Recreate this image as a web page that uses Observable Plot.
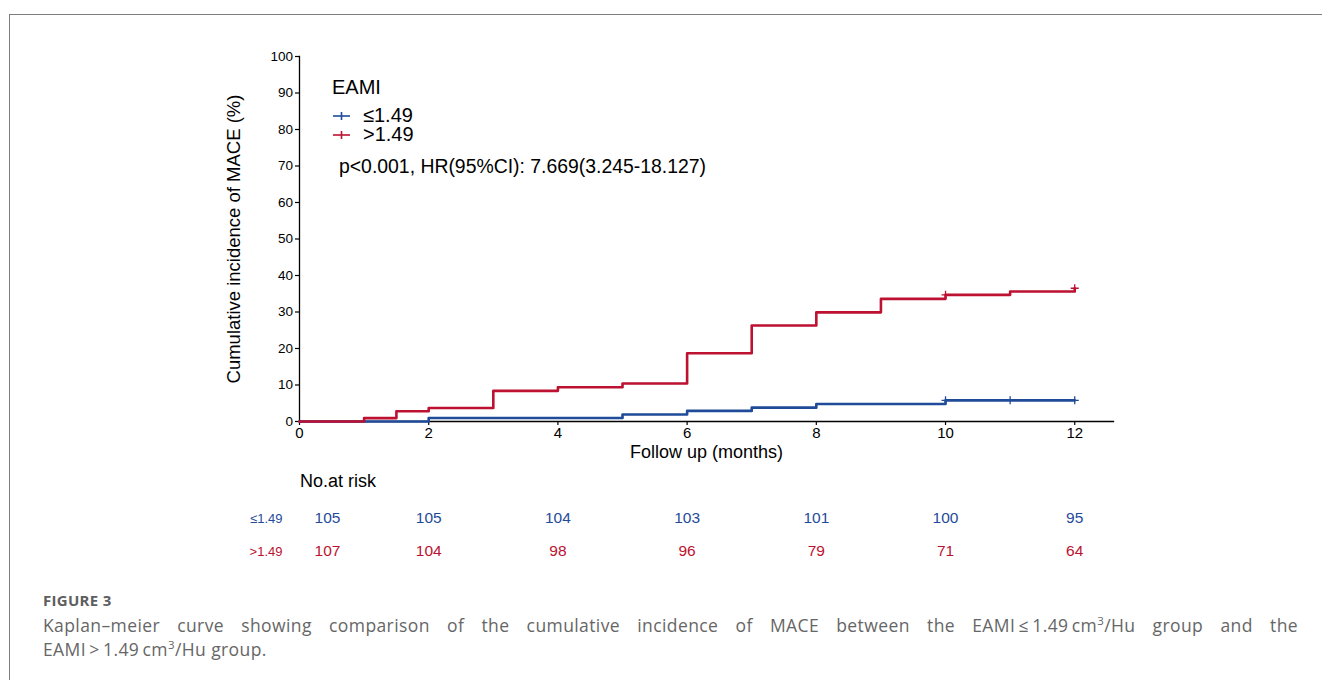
<!DOCTYPE html>
<html>
<head>
<meta charset="utf-8">
<script src="https://cdn.jsdelivr.net/npm/d3@7"></script>
<script src="https://cdn.jsdelivr.net/npm/@observablehq/plot@0.6"></script>
<style>
  html, body { margin: 0; padding: 0; background: #fff; }
  body { width: 1322px; height: 680px; overflow: hidden; position: relative;
         font-family: "Liberation Sans", Arial, sans-serif; color: #000; }
  #frame { position: absolute; left: 9px; top: 14px; width: 1400px; height: 700px;
           border-top: 1.5px solid #7d7d7d; border-left: 1.5px solid #7d7d7d; }
  #km, #risk { position: absolute; left: 0; }
  #km { top: 0; }
  #risk { top: 460px; }
  .abs { position: absolute; white-space: nowrap; }
  #legendTitle { left: 332px; top: 76px; font-size: 20px; line-height: 22px; }
  .item { left: 333px; font-size: 20px; line-height: 19px; height: 19px; display: flex; align-items: center; }
  .item svg { margin-right: 12px; }
  #pval { left: 339px; top: 155px; font-size: 19.4px; line-height: 22px; }
  #riskTitle { left: 300px; top: 470px; font-size: 18px; line-height: 22px; }
  #caption { position: absolute; left: 43px; top: 590px; width: 1255px;
             font-family: "Open Sans", Lato, sans-serif; color: #666; }
  #figno { font-size: 15px; font-weight: 700; letter-spacing: 0.3px; line-height: 20px; color: #5e5e5e; }
  .cap { font-size: 17.5px; letter-spacing: 0.4px; line-height: 24px; }
  .cap.first { margin-top: 3px; text-align: justify; text-align-last: justify; }
  .cap sup { font-size: 11.5px; line-height: 0; vertical-align: 7px; }
</style>
</head>
<body>
<div id="frame"></div>
<div id="km"></div>
<div id="risk"></div>

<div class="abs" id="legendTitle">EAMI</div>
<div class="abs item" id="item0" style="top:106px"></div>
<div class="abs item" id="item1" style="top:125px"></div>
<div class="abs" id="pval">p&lt;0.001, HR(95%CI): 7.669(3.245-18.127)</div>
<div class="abs" id="riskTitle">No.at risk</div>

<div id="caption">
  <div id="figno">FIGURE 3</div>
  <div class="cap first">Kaplan–meier curve showing comparison of the cumulative incidence of MACE between the EAMI&#8201;≤&#8201;1.49&#8201;cm<sup>3</sup>/Hu group and the</div>
  <div class="cap">EAMI&#8201;&gt;&#8201;1.49&#8201;cm<sup>3</sup>/Hu group.</div>
</div>

<script>
// Groups and colours
const groups = ["≤1.49", ">1.49"];
const groupColors = ["#1f4b99", "#bc1131"];

// Cumulative incidence (%) step points, EAMI ≤1.49
const lowTime = [0, 2, 5, 6, 7, 8, 10, 12];
const lowCum  = [0, 0.95, 1.9, 2.9, 3.8, 4.8, 5.8, 5.8];
const lowCensor = [10, 11, 12];

// Cumulative incidence (%) step points, EAMI >1.49
const highTime = [0, 1, 1.5, 2, 3, 4, 5, 6, 7, 8, 9, 10, 11, 12];
const highCum  = [0, 0.93, 2.8, 3.7, 8.4, 9.4, 10.4, 18.7, 26.3, 29.9, 33.6, 34.7, 35.6, 36.5];
const highCensor = [10, 12];

// Number at risk
const riskTime = [0, 2, 4, 6, 8, 10, 12];
const lowRisk  = [105, 105, 104, 103, 101, 100, 95];
const highRisk = [107, 104, 98, 96, 79, 71, 64];

// Axis ticks
const xTicks = [0, 2, 4, 6, 8, 10, 12];
const yTicks = [0, 10, 20, 30, 40, 50, 60, 70, 80, 90, 100];

const series = [
  {group: groups[0], color: groupColors[0], time: lowTime, cum: lowCum, censor: lowCensor, risk: lowRisk},
  {group: groups[1], color: groupColors[1], time: highTime, cum: highCum, censor: highCensor, risk: highRisk}
];

const curves = series.flatMap(s => s.time.map((t, i) => ({group: s.group, color: s.color, time: t, cum: s.cum[i]})));
const stepAt = (s, t) => { let v = 0; s.time.forEach((tt, i) => { if (tt <= t) v = s.cum[i]; }); return v; };
const censors = series.flatMap(s => s.censor.map(t => ({group: s.group, color: s.color, time: t, cum: stepAt(s, t)})));
const riskRows = series.flatMap(s => riskTime.map((t, i) => ({group: s.group, color: s.color, time: t, n: s.risk[i]})));

const font = "Liberation Sans, Arial, sans-serif";
const xDomain = [0, 12.6];

const km = Plot.plot({
  width: 1322, height: 470,
  marginLeft: 299, marginRight: 209, marginTop: 56, marginBottom: 49,
  style: {fontFamily: font, fontSize: "14px", color: "#000", background: "transparent", overflow: "visible"},
  x: {domain: xDomain},
  y: {domain: [0, 100]},
  marks: [
    Plot.axisY({ticks: yTicks, tickSize: 4, tickPadding: 2.5, label: null, fontSize: 13.5, strokeWidth: 1.2}),
    Plot.axisY({ticks: [], label: "Cumulative incidence of MACE (%)", labelAnchor: "center", labelArrow: "none", labelOffset: 73, fontSize: 18.5}),
    Plot.axisX({ticks: xTicks, tickSize: 4, tickPadding: 1.5, label: null, fontSize: 15, strokeWidth: 1.2}),
    Plot.axisX({ticks: [], label: "Follow up (months)", labelAnchor: "center", labelArrow: "none", labelOffset: 36, fontSize: 18}),
    Plot.frame({anchor: "left", strokeWidth: 1.3}),
    Plot.frame({anchor: "bottom", strokeWidth: 1.3}),
    Plot.line(curves, {x: "time", y: "cum", z: "group", stroke: "color", curve: "step-after", strokeWidth: 2.6}),
    Plot.dot(censors, {x: "time", y: "cum", stroke: "color", symbol: "plus", r: 2.7, strokeWidth: 1.3})
  ]
});
document.getElementById("km").appendChild(km);

const risk = Plot.plot({
  width: 1322, height: 110,
  marginLeft: 299, marginRight: 209, marginTop: 58, marginBottom: 19,
  style: {fontFamily: font, background: "transparent", overflow: "visible"},
  x: {domain: xDomain, axis: null},
  y: {type: "point", domain: groups, padding: 0, axis: null},
  marks: [
    Plot.text(riskRows.filter(d => d.time > 0), {x: "time", y: "group", text: "n", fill: "color", fontSize: 15.5}),
    Plot.text(riskRows.filter(d => d.time === 0), {x: "time", y: "group", text: "n", fill: "color", fontSize: 15.5, dx: 28}),
    Plot.text(series, {y: "group", text: "group", fill: "color", frameAnchor: "left", textAnchor: "end", dx: -17, fontSize: 13})
  ]
});
document.getElementById("risk").appendChild(risk);

// Legend entries with a plus glyph like the censor marks
series.forEach((s, i) => {
  const el = document.getElementById("item" + i);
  el.innerHTML = `<svg width="18" height="12"><line x1="0" x2="17" y1="6" y2="6" stroke="${s.color}" stroke-width="1.6"/><line x1="8.5" x2="8.5" y1="2" y2="10" stroke="${s.color}" stroke-width="1.6"/></svg><span>${s.group}</span>`;
});
</script>
</body>
</html>
